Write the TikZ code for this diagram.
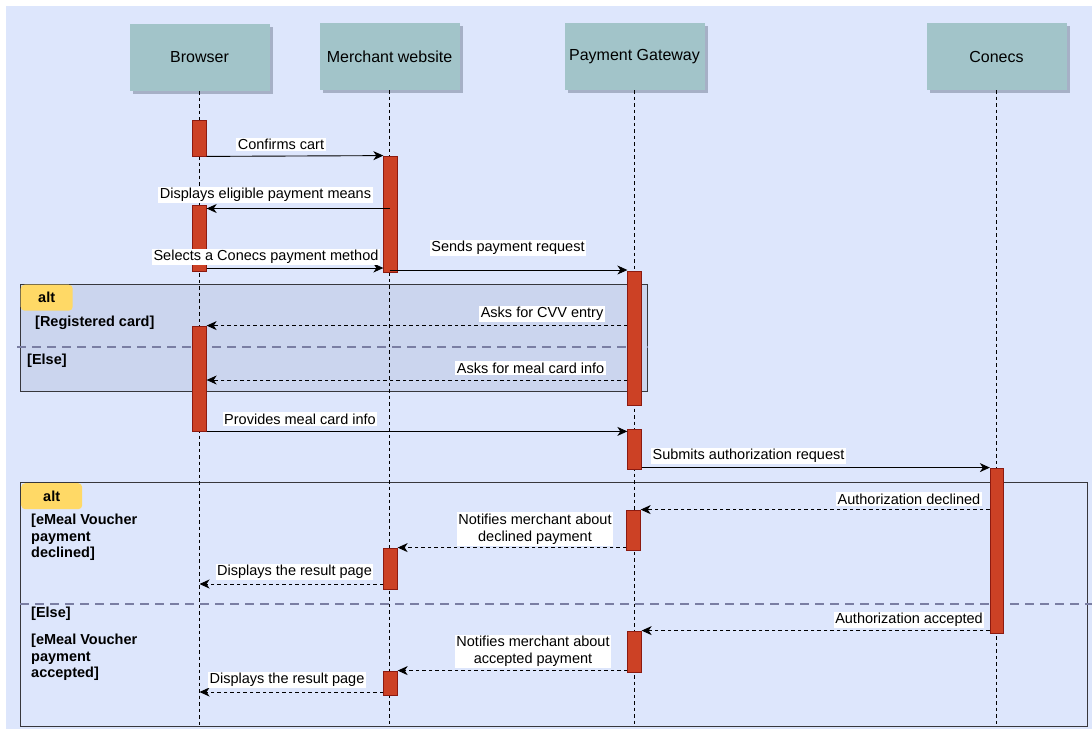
\documentclass[tikz,border=0pt]{standalone}
\usepackage{fontspec}
\setmainfont{Liberation Sans}
\usetikzlibrary{arrows.meta, positioning, calc, shadows}

\definecolor{pagebg}{RGB}{221,230,252}
\definecolor{altbg}{RGB}{203,213,238}
\definecolor{actorfill}{RGB}{162,196,201}
\definecolor{actorshadow}{RGB}{166,176,198}
\definecolor{barfill}{RGB}{204,65,37}
\definecolor{barline}{RGB}{140,26,16}
\definecolor{tagfill}{RGB}{255,217,102}
\definecolor{sepline}{RGB}{122,126,163}
\definecolor{frameline}{RGB}{55,55,60}

\tikzset{
  actor/.style={fill=actorfill, minimum width=140pt, minimum height=67pt, font=\fontsize{16}{19}\selectfont,
    drop shadow={shadow xshift=3pt, shadow yshift=-3pt, fill=actorshadow, opacity=1}},
  lifeline/.style={line width=0.9pt, dash pattern=on 3.5pt off 3pt},
  actbar/.style={draw=barline, fill=barfill, line width=0.8pt, minimum width=13.5pt, inner sep=0pt},
  msg/.style={line width=0.9pt, -{Stealth[length=10pt, width=9pt, inset=3pt]}},
  reply/.style={msg, dash pattern=on 3.5pt off 3pt},
  lbl/.style={fill=white, inner sep=1.5pt, font=\fontsize{14.5}{16.7}\selectfont},
  altframe/.style={draw=frameline, line width=1pt, anchor=north west, inner sep=0pt},
  alttag/.style={fill=tagfill, rounded corners=4pt, anchor=north west, inner sep=0pt,
    font=\bfseries\fontsize{14.5}{17}\selectfont},
  guard/.style={font=\bfseries\fontsize{14.5}{16.7}\selectfont, align=left, anchor=west, inner sep=0pt},
  altsep/.style={draw=sepline, line width=2.4pt, dash pattern=on 9pt off 6pt}
}

\begin{document}
\begin{tikzpicture}[x=1pt, y=-1pt, font=\fontsize{14.5}{16.7}\selectfont]
  \useasboundingbox (0,0) rectangle (1092,729);
  % page
  \fill[white] (0,0) rectangle (1092,729);
  \fill[pagebg] (6,6) rectangle (1092,729);

  % Lifeline heads
  \node[actor] (browser) at (199.5,57.5) {Browser};
  \node[actor] (merchant) at (389.5,56.5) {Merchant website};
  \node[actor] (gateway) at (634.5,56.5) {Payment Gateway};
  \node[actor] (conecs) at (996.5,56.5) {Conecs};

  % alt frames
  \node[altframe, fill=altbg, minimum width=627pt, minimum height=107pt] (altcard) at (20,284) {};
  \node[altframe, minimum width=1067pt, minimum height=244pt] (altauth) at (20,482) {};
  \coordinate (sepcard) at (17,347);
  \coordinate (sepauth) at (20,604);
  \draw[altsep] (sepcard) -- (sepcard -| altcard.east);
  \draw[altsep] (sepauth) -- ([xshift=4pt]sepauth -| altauth.east);
  \node[alttag, minimum width=52pt, minimum height=26pt] (tagcard) at (20.5,284.5) {alt};
  \node[alttag, minimum width=61pt, minimum height=26pt] (tagauth) at (21,483) {alt};
  \node[guard] (gregistered) at (35,323) {[Registered card]};
  \node[guard] (gelsecard) at (27,361) {[Else]};
  \node[guard] (gdeclined) at (31,537.5) {[eMeal Voucher\\payment\\declined]};
  \node[guard] (gelseauth) at (31,614) {[Else]};
  \node[guard] (gaccepted) at (31,657.5) {[eMeal Voucher\\payment\\accepted]};

  % Lifelines
  \coordinate (bottom) at (0,726);
  \foreach \who in {browser, merchant, gateway, conecs}
    \draw[lifeline] (\who.south) -- (\who.south |- bottom);

  % Activations
  \node[actbar, minimum height=36pt] (b1) at (199.5,138) {};
  \node[actbar, minimum height=116pt] (m1) at (390.5,214) {};
  \node[actbar, minimum height=66pt] (b2) at (199.5,238) {};
  \node[actbar, minimum height=134pt] (g1) at (634.5,338) {};
  \node[actbar, minimum height=105pt] (b3) at (199.5,378.5) {};
  \node[actbar, minimum height=40pt] (g2) at (634.5,449) {};
  \node[actbar, minimum height=165pt] (c1) at (997,550.5) {};
  \node[actbar, minimum height=40pt] (g3) at (633.5,530) {};
  \node[actbar, minimum height=41pt] (m2) at (390.5,568.5) {};
  \node[actbar, minimum height=41pt] (g4) at (634.5,651.5) {};
  \node[actbar, minimum height=24pt] (m3) at (390.5,683) {};

  % Messages
  \coordinate (rdisplay) at (0,208.5);
  \coordinate (rselect) at (0,268);
  \coordinate (rsend) at (0,270);
  \coordinate (rmeal) at (0,380);
  \coordinate (rresult1) at (0,584);
  \coordinate (rresult2) at (0,692);
  \draw[msg] (b1.south east) -- (m1.north west);
  \draw[msg] (merchant |- rdisplay) -- (b2.east |- rdisplay);
  \draw[msg] (b2.east |- rselect) -- (m1.west |- rselect);
  \draw[msg] (merchant |- rsend) -- (g1.west |- rsend);
  \draw[reply] (g1.west |- b3.north) -- (b3.north east);
  \draw[reply] (g1.west |- rmeal) -- (b3.east |- rmeal);
  \draw[msg] (b3.south east) -- (g2.west |- b3.south);
  \draw[msg] (g2.east |- c1.north) -- (c1.north west);
  \draw[reply] (c1.west |- g3.north) -- (g3.north east);
  \draw[reply] (g3.west |- m2.north) -- (m2.north east);
  \draw[reply] (m2.west |- rresult1) -- (browser |- rresult1);
  \draw[reply] (c1.west |- g4.north) -- (g4.north east);
  \draw[reply] (g4.west |- m3.north) -- (m3.north east);
  \draw[reply] (m3.west |- rresult2) -- (browser |- rresult2);

  % Message labels
  \node[lbl] (lconfirm) at (281,144.5) {Confirms cart};
  \node[lbl] (ldisplay) at (265.5,195) {Displays eligible payment means};
  \node[lbl] (lselect) at (266,257) {Selects a Conecs payment method};
  \node[lbl] (lsend) at (508,248) {Sends payment request};
  \node[lbl, anchor=east] (lcvv) at (605,314) {Asks for CVV entry};
  \node[lbl, anchor=east] (lmeal) at (606,368) {Asks for meal card info};
  \node[lbl] (lprovide) at (300,419) {Provides meal card info};
  \node[lbl] (lsubmit) at (748.5,456) {Submits authorization request};
  \node[lbl] (ldeclined) at (909,499) {Authorization declined};
  \node[lbl, align=center] (lnotifyd) at (535,529) {Notifies merchant about\\declined payment};
  \node[lbl] (lresult1) at (294.5,572) {Displays the result page};
  \node[lbl] (laccepted) at (909,620) {Authorization accepted};
  \node[lbl, align=center] (lnotifya) at (533,651.5) {Notifies merchant about\\accepted payment};
  \node[lbl] (lresult2) at (287,680) {Displays the result page};
\end{tikzpicture}
\end{document}
